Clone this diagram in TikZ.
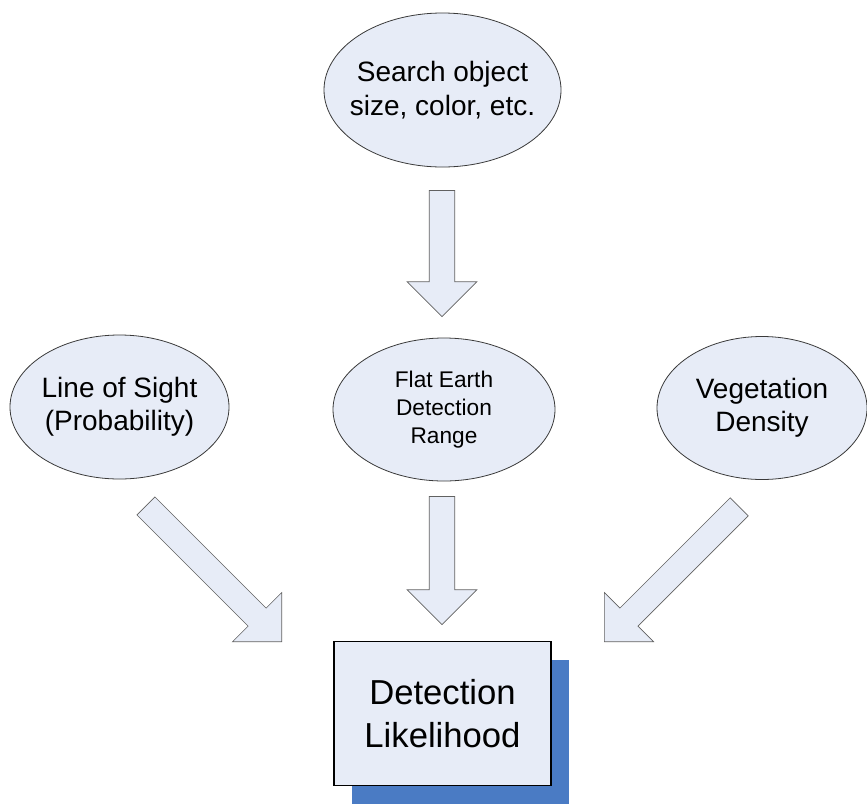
\documentclass[tikz,border=0pt]{standalone}
\usepackage{fontspec}
\setmainfont{Liberation Sans}
\usetikzlibrary{shapes.geometric, shapes.arrows, shadows, positioning}
\definecolor{soft-fill}{HTML}{E7ECF7}
\definecolor{ink}{HTML}{3A3A3A}
\definecolor{shade-blue}{HTML}{4A7BC4}

\begin{document}
\begin{tikzpicture}[
    x=0.75pt, y=0.75pt,
    factor/.style={
        ellipse, draw=ink, line width=0.6pt,
        fill=soft-fill, inner xsep=-10pt, inner ysep=0pt, align=center,
        font=\fontsize{21}{25}\selectfont,
    },
    blockarrow/.style={
        single arrow, draw=ink!80, line width=0.5pt,
        fill=soft-fill, inner xsep=0pt, inner ysep=9.3pt,
        single arrow head extend=16.5pt, anchor=tip,
    },
    result/.style={
        rectangle, draw=black, line width=0.8pt,
        fill=soft-fill, align=center,
        minimum width=162.75pt, minimum height=108pt,
        font=\fontsize{26}{32}\selectfont,
        drop shadow={shadow xshift=13.5pt, shadow yshift=-13.5pt,
                     fill=shade-blue, opacity=1},
    },
]
\useasboundingbox (0,0) rectangle (867,-804);

% top input
\node[factor, minimum width=177.75pt, minimum height=115.5pt]
    (object) at (442.5,-90) {Search object\\size, color, etc.};

% middle row
\node[factor, minimum width=164.25pt, minimum height=108pt]
    (sight) at (119.5,-407) {Line of Sight\\(Probability)};
\node[factor, minimum width=166.5pt, minimum height=107.25pt,
      font=\fontsize{17}{21}\selectfont]
    (range) at (444,-409.5) {Flat Earth\\Detection\\Range};
\node[factor, minimum width=157.5pt, minimum height=107.25pt]
    (veg) at (762,-408) {Vegetation\\Density};

% outcome
\node[result] (likely) at (442.5,-713.5) {Detection\\Likelihood};

% block arrows
\node[blockarrow, minimum height=94.5pt, rotate=-90] (a-object) at (442,-317) {};
\node[blockarrow, minimum height=96pt,   rotate=-90] (a-range)  at (442,-625) {};
\node[blockarrow, minimum height=144pt,  rotate=-45] (a-sight)  at (282,-642) {};
\node[blockarrow, minimum height=143pt,  rotate=-135] (a-veg)   at (604,-642) {};

\end{tikzpicture}
\end{document}
